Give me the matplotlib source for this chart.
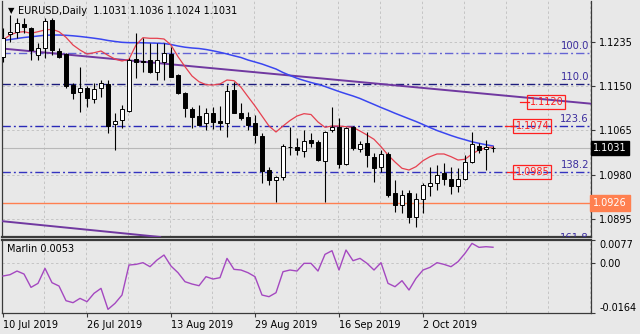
import matplotlib
matplotlib.use('Agg')
import matplotlib.pyplot as plt
import matplotlib.transforms as mtransforms

# EURUSD daily, 10 Jul 2019 .. 16 Oct 2019 (71 bars)
date_labels = ['10 Jul 2019', '26 Jul 2019', '13 Aug 2019', '29 Aug 2019', '16 Sep 2019', '2 Oct 2019']
date_bars = [0, 12, 24, 36, 48, 60]

opens = [1.1207, 1.1250, 1.1254, 1.1270, 1.1262, 1.1210, 1.1223, 1.1277, 1.1218, 1.1212,
         1.1152, 1.1139, 1.1147, 1.1125, 1.1147, 1.1154, 1.1077, 1.1085, 1.1102, 1.1202,
         1.1198, 1.1200, 1.1177, 1.1197, 1.1212, 1.1172, 1.1137, 1.1106, 1.1093, 1.1079,
         1.1099, 1.1083, 1.1079, 1.1143, 1.1099, 1.1091, 1.1079, 1.1054, 1.0989, 1.0970,
         1.0976, 1.1033, 1.1033, 1.1026, 1.1047, 1.1043, 1.1006, 1.1066, 1.1072, 1.1001,
         1.1072, 1.1029, 1.1041, 1.1014, 1.0995, 1.1020, 1.0945, 1.0922, 1.0945, 1.0899,
         1.0933, 1.0958, 1.0964, 1.0983, 1.0972, 1.0958, 1.0972, 1.1005, 1.1035, 1.1029,
         1.1031]
highs = [1.1262, 1.1287, 1.1281, 1.1281, 1.1264, 1.1233, 1.1281, 1.1281, 1.1223, 1.1214,
         1.1156, 1.1187, 1.1150, 1.1156, 1.1162, 1.1162, 1.1099, 1.1114, 1.1204, 1.1252,
         1.1243, 1.1233, 1.1233, 1.1233, 1.1225, 1.1174, 1.1139, 1.1110, 1.1114, 1.1108,
         1.1110, 1.1112, 1.1152, 1.1158, 1.1118, 1.1101, 1.1095, 1.1060, 1.0995, 1.0977,
         1.1039, 1.1072, 1.1051, 1.1066, 1.1060, 1.1047, 1.1064, 1.1110, 1.1089, 1.1072,
         1.1074, 1.1045, 1.1062, 1.1022, 1.1028, 1.1024, 1.0970, 1.0951, 1.0951, 1.0945,
         1.0964, 1.0995, 1.0999, 1.1003, 1.0995, 1.0993, 1.1018, 1.1062, 1.1041, 1.1047,
         1.1036]
lows = [1.1196, 1.1235, 1.1243, 1.1252, 1.1200, 1.1200, 1.1204, 1.1210, 1.1204, 1.1147,
        1.1126, 1.1101, 1.1110, 1.1118, 1.1129, 1.1060, 1.1028, 1.1070, 1.1101, 1.1166,
        1.1177, 1.1175, 1.1162, 1.1162, 1.1167, 1.1135, 1.1091, 1.1070, 1.1076, 1.1066,
        1.1068, 1.1066, 1.1053, 1.1099, 1.1085, 1.1066, 1.1041, 1.0964, 1.0960, 1.0927,
        1.0970, 1.1018, 1.1018, 1.1014, 1.1033, 1.1006, 1.0928, 1.1062, 1.0993, 1.0999,
        1.1028, 1.1024, 1.0995, 1.0966, 1.0985, 1.0938, 1.0908, 1.0906, 1.0887, 1.0880,
        1.0906, 1.0939, 1.0951, 1.0960, 1.0943, 1.0947, 1.0970, 1.1003, 1.1022, 1.0989,
        1.1024]
closes = [1.1242, 1.1254, 1.1272, 1.1264, 1.1220, 1.1223, 1.1275, 1.1220, 1.1206, 1.1150,
          1.1137, 1.1147, 1.1127, 1.1145, 1.1156, 1.1074, 1.1083, 1.1106, 1.1200, 1.1197,
          1.1196, 1.1177, 1.1200, 1.1214, 1.1168, 1.1137, 1.1108, 1.1091, 1.1076, 1.1099,
          1.1081, 1.1079, 1.1141, 1.1099, 1.1089, 1.1076, 1.1056, 1.0987, 1.0970, 1.0975,
          1.1035, 1.1034, 1.1028, 1.1045, 1.1041, 1.1008, 1.1062, 1.1072, 1.1001, 1.1070,
          1.1031, 1.1039, 1.1018, 1.0993, 1.1020, 1.0941, 1.0922, 1.0941, 1.0899, 1.0933,
          1.0960, 1.0964, 1.0980, 1.0972, 1.0958, 1.0972, 1.1005, 1.1039, 1.1028, 1.1033,
          1.1031]

# red (fast) and blue (slow) moving averages
ma_fast = [1.12388, 1.12484, 1.12536, 1.12548, 1.12517, 1.12548, 1.12581, 1.12594, 1.12548, 1.12440,
           1.12292, 1.12196, 1.12119, 1.12144, 1.12177, 1.12094, 1.12023, 1.11985, 1.12018, 1.12292,
           1.12433, 1.12421, 1.12421, 1.12408, 1.12292, 1.12068, 1.11876, 1.11697, 1.11587, 1.11530,
           1.11524, 1.11543, 1.11620, 1.11607, 1.11480, 1.11299, 1.11121, 1.10928, 1.10736, 1.10621,
           1.10736, 1.10842, 1.10928, 1.10973, 1.10957, 1.10813, 1.10711, 1.10736, 1.10736, 1.10723,
           1.10711, 1.10640, 1.10563, 1.10481, 1.10339, 1.10179, 1.10045, 1.09924, 1.09891, 1.09955,
           1.10070, 1.10147, 1.10199, 1.10199, 1.10147, 1.10083, 1.10097, 1.10199, 1.10275, 1.10320,
           1.10333]
ma_slow = [1.12379, 1.12398, 1.12417, 1.12437, 1.12450, 1.12465, 1.12479, 1.12484, 1.12484, 1.12479,
           1.12469, 1.12456, 1.12440, 1.12423, 1.12404, 1.12379, 1.12360, 1.12344, 1.12337, 1.12337,
           1.12335, 1.12331, 1.12327, 1.12321, 1.12302, 1.12273, 1.12250, 1.12235, 1.12225, 1.12206,
           1.12181, 1.12152, 1.12120, 1.12085, 1.12052, 1.12004, 1.11966, 1.11927, 1.11879, 1.11831,
           1.11764, 1.11707, 1.11653, 1.11611, 1.11572, 1.11538, 1.11495, 1.11447, 1.11399, 1.11355,
           1.11313, 1.11265, 1.11207, 1.11150, 1.11092, 1.11038, 1.10981, 1.10928, 1.10875, 1.10823,
           1.10765, 1.10707, 1.10650, 1.10602, 1.10554, 1.10510, 1.10472, 1.10433, 1.10404, 1.10376,
           1.10353]

marlin = [-0.00424, -0.00380, -0.00259, -0.00358, -0.00800, -0.00667, -0.00170, -0.00645, -0.00756, -0.01242,
          -0.01308, -0.01165, -0.01275, -0.00999, -0.00833, -0.01529, -0.01330, -0.01054, -0.00060, -0.00038,
          0.00018, -0.00115, 0.00106, 0.00272, -0.00093, -0.00314, -0.00612, -0.00689, -0.00745, -0.00446,
          -0.00524, -0.00479, 0.00161, -0.00203, -0.00225, -0.00314, -0.00446, -0.01054, -0.01109, -0.00977,
          -0.00281, -0.00225, -0.00259, -0.00004, -0.00004, -0.00259, 0.00294, 0.00415, -0.00225, 0.00438,
          0.00084, 0.00161, -0.00004, -0.00225, 0.00018, -0.00667, -0.00778, -0.00579, -0.00888, -0.00502,
          -0.00225, -0.00137, 0.00018, -0.00038, -0.00115, 0.00051, 0.00327, 0.00658, 0.00526, 0.00548,
          0.00530]

fib_levels = [1.1214, 1.1154, 1.1073, 1.0986, 1.0845]
fib_names = ['100.0', '110.0', '123.6', '138.2', '161.8']
fib_colors = ['#6464d4', '#1c1c7c', '#2a2ab8', '#3434c0', '#3434c0']

price_ticks = [1.1235, 1.1150, 1.1065, 1.0980, 1.0895]
support = 1.0926
last_price = 1.1031
trend_upper = [(0, 1.12223), (84, 1.11165)]
trend_lower = [(0, 1.08906), (20, 1.08637)]
tag_prices = [1.1120, 1.1074, 1.0985]
title = 'EURUSD,Daily  1.1031 1.1036 1.1024 1.1031'
marlin_title = 'Marlin 0.0053'

BG = '#e8e8e8'
GRID = '#c4c4c4'
FRAME = '#3a3a3a'
W, H = 640, 334

plt.rcParams['font.family'] = ['DejaVu Sans']
plt.rcParams['font.size'] = 7

fig = plt.figure(figsize=(6.4, 3.34), dpi=100, facecolor=BG)


def rect(x0, y0, x1, y1):
    return [x0 / W, 1 - y1 / H, (x1 - x0) / W, (y1 - y0) / H]


ax = fig.add_axes(rect(2, 1, 590.7, 237), facecolor=BG)
ax2 = fig.add_axes(rect(2, 240, 590.7, 312.7), facecolor=BG)

n = len(closes)
x = list(range(n))
xmin, xmax = -1 / 7, 587.7 / 7

# ---- main panel
ax.set_xlim(xmin, xmax)
ax.set_ylim(1.08604, 1.131376)

grid_dash = (0, (2.5, 2.5))
for gx in range(6, 85, 6):
    ax.axvline(gx - 0.15, color=GRID, lw=0.7, ls=grid_dash, zorder=0)
    ax2.axvline(gx - 0.15, color=GRID, lw=0.7, ls=grid_dash, zorder=0)
for p in price_ticks:
    ax.axhline(p, color=GRID, lw=0.7, ls=grid_dash, zorder=0)

ax.axhline(last_price, color='#b8b8b8', lw=0.8, zorder=1)
ax.axhline(support, color='#ff7f50', lw=1.0, zorder=2)

dashdot = (0, (6, 2.2, 1.4, 2.2))
shift = mtransforms.ScaledTranslation(0, 7 / 100, fig.dpi_scale_trans)
for lvl, name, col in zip(fib_levels, fib_names, fib_colors):
    ax.axhline(lvl, color=col, lw=1.0, ls=dashdot, zorder=2)
    t = ax.text(83.7, lvl, name, ha='right', va='center', color='#3b2d9e', fontsize=7.2,
                transform=ax.transData + shift, zorder=5)
    t.set_clip_on(True)

ax.axline(trend_upper[0], trend_upper[1], color='#7038a0', lw=1.4, zorder=3)
ax.axline(trend_lower[0], trend_lower[1], color='#7038a0', lw=1.4, zorder=3)

ax.plot(x, ma_slow, color='#3a46f0', lw=1.1, zorder=3)
ax.plot(x, ma_fast, color='#e6404f', lw=0.9, zorder=3)

# candles
for i in range(n):
    o, h, l, c = opens[i], highs[i], lows[i], closes[i]
    ax.vlines(i, l, h, color='black', lw=0.8, zorder=4)
    bottom = min(o, c)
    height = max(abs(c - o), 0.00004)
    face = 'white' if c >= o else 'black'
    ax.bar(i, height, bottom=bottom, width=0.7, color=face, edgecolor='black', lw=0.7, zorder=4)

# red price tags
tag_layout = [(77.64, 73.86, 75.14), (75.64, 71.7, 73.1), (75.64, 72.0, 73.1)]
for p, (cx, l0, l1) in zip(tag_prices, tag_layout):
    ax.plot([l0, l1], [p, p], color='#ff2020', lw=0.9, zorder=5)
    ax.text(cx, p, f'{p:.4f}', ha='center', va='center', color='#ff2020', fontsize=7, zorder=6,
            bbox=dict(boxstyle='square,pad=0.22', fc='none', ec='#ff2020', lw=0.9))

ax.set_xticks([])
ax.yaxis.tick_right()
ax.set_yticks(price_ticks)
ax.set_yticklabels([f'{p:.4f}' for p in price_ticks])
ax.tick_params(axis='y', direction='out', length=3, width=0.8, color=FRAME, pad=3, labelsize=7)

blend = mtransforms.blended_transform_factory(ax.transAxes, ax.transData)
ax.text(1.004, last_price, f'{last_price:.4f}', transform=blend, ha='left', va='center',
        color='white', fontsize=7, bbox=dict(boxstyle='square,pad=0.2', fc='black', ec='black'))
ax.text(1.004, support, f'{support:.4f}', transform=blend, ha='left', va='center',
        color='white', fontsize=7, bbox=dict(boxstyle='square,pad=0.28', fc='#ff8050', ec='#ff8050'))

for s in ['left', 'right', 'bottom']:
    ax.spines[s].set_color(FRAME)
    ax.spines[s].set_linewidth(0.9)
ax.spines['bottom'].set_linewidth(1.6)
ax.spines['top'].set_visible(False)

fig.text(8 / W, 1 - 11 / H, '\u25bc', fontsize=6, va='center', ha='left', color='black')
fig.text(18 / W, 1 - 11 / H, title, fontsize=7, va='center', ha='left', color='black')

# ---- Marlin panel
ax2.set_xlim(xmin, xmax)
ax2.set_ylim(-0.0164, 0.0077)
ax2.axhline(0, color=GRID, lw=0.7, ls=grid_dash, zorder=0)
ax2.plot(x, marlin, color='#a448c0', lw=1.0, zorder=3)
ax2.text(0.0085, 0.876, marlin_title, transform=ax2.transAxes, ha='left', va='center', fontsize=7)

ax2.yaxis.tick_right()
ax2.set_yticks([0.0077, 0.0, -0.0164])
ax2.set_yticklabels(['0.0077', '0.00', '-0.0164'])
ax2.tick_params(axis='y', direction='out', length=3, width=0.8, color=FRAME, pad=3, labelsize=7)
ylabels = ax2.get_yticklabels()
ylabels[0].set_va('top')
ylabels[2].set_va('bottom')

ax2.set_xticks(date_bars)
ax2.set_xticklabels(date_labels, ha='left')
ax2.tick_params(axis='x', direction='out', length=3, width=0.8, color=FRAME, pad=2, labelsize=7)

for s in ['left', 'right', 'bottom', 'top']:
    ax2.spines[s].set_color(FRAME)
    ax2.spines[s].set_linewidth(0.9)
ax2.spines['top'].set_linewidth(1.6)

fig.savefig('out.png', dpi=100, facecolor=BG)
